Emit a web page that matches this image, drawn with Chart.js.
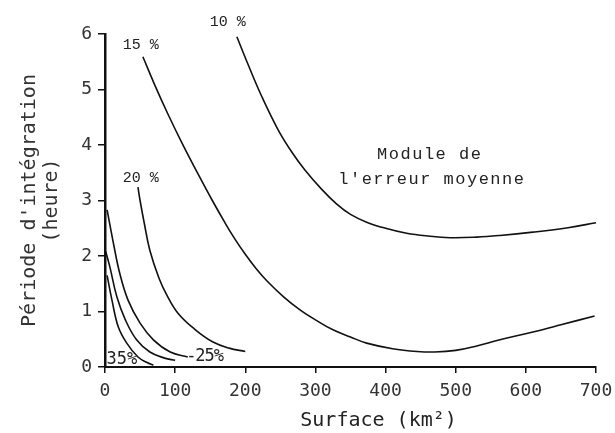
<!DOCTYPE html>
<html>
<head>
<meta charset="utf-8">
<script src="https://cdn.jsdelivr.net/npm/chart.js@4.4.1/dist/chart.umd.min.js"></script>
<style>
html,body{margin:0;padding:0;background:#fff;}
#wrap{width:615px;height:433px;position:relative;}
</style>
</head>
<body>
<div id="wrap"><canvas id="c" width="615" height="433"></canvas></div>
<script>
// ---- data ----
const xTicks = [0, 100, 200, 300, 400, 500, 600, 700];
const yTicks = [0, 1, 2, 3, 4, 5, 6];

const err10X = [188, 204, 224, 247, 267, 285, 309, 330, 350, 373, 400, 430, 460, 492, 530, 563, 610, 660, 700];
const err10Y = [5.95, 5.45, 4.86, 4.27, 3.86, 3.55, 3.2, 2.94, 2.75, 2.61, 2.5, 2.41, 2.36, 2.33, 2.34, 2.37, 2.43, 2.51, 2.6];

const err15X = [54, 71, 90, 110, 133, 153, 171, 183, 200, 215, 231, 255, 278, 300, 325, 350, 373, 410, 445, 470, 500, 530, 563, 610, 650, 698];
const err15Y = [5.59, 5.08, 4.55, 4.03, 3.47, 3.0, 2.6, 2.35, 2.03, 1.78, 1.55, 1.26, 1.03, 0.85, 0.67, 0.54, 0.43, 0.33, 0.28, 0.27, 0.3, 0.38, 0.49, 0.63, 0.76, 0.92];

const err20X = [47, 50, 56, 64, 77, 88, 104, 128, 154, 177, 200];
const err20Y = [3.24, 3.0, 2.59, 2.1, 1.6, 1.3, 0.97, 0.68, 0.45, 0.34, 0.28];

const err25X = [3, 12, 21, 33, 50, 69, 93, 118];
const err25Y = [2.83, 2.23, 1.69, 1.2, 0.79, 0.49, 0.27, 0.18];

const err30X = [1, 7, 17, 29, 45, 64, 85, 100];
const err30Y = [2.08, 1.8, 1.26, 0.85, 0.49, 0.27, 0.16, 0.12];

const err35X = [3, 10, 19, 31, 47, 60, 69];
const err35Y = [1.65, 1.2, 0.72, 0.43, 0.18, 0.08, 0.03];

const noteTexts = ['10 %', '15 %', '20 %', '-25%', '35%', 'Module de', "l'erreur moyenne"];
const noteX = [175, 51, 51, 142, 24, 463, 466];
const noteY = [6.22, 5.8, 3.4, 0.18, 0.13, 3.82, 3.37];
const noteKind = ['serif', 'serif', 'serif', 'sans', 'sans', 'serif', 'serif'];

const xTitle = 'Surface (km²)';
const xTitleAt = 390;
const yTitle = ["Période d'intégration", '(heure)'];

// ---- build datasets ----
function pts(xs, ys) { return xs.map((x, i) => ({x: x, y: ys[i]})); }
const series = [
  ['10 %', err10X, err10Y],
  ['15 %', err15X, err15Y],
  ['20 %', err20X, err20Y],
  ['25 %', err25X, err25Y],
  ['30 %', err30X, err30Y],
  ['35 %', err35X, err35Y]
];
const datasets = series.map(s => ({
  label: s[0],
  data: pts(s[1], s[2]),
  borderColor: '#111',
  borderWidth: 1.6,
  pointRadius: 0,
  showLine: true,
  fill: false,
  tension: 0.4,
  clip: false
}));

const textPlugin = {
  id: 'notes',
  afterDatasetsDraw(chart) {
    const ctx = chart.ctx, xs = chart.scales.x, ys = chart.scales.y;
    ctx.save();
    ctx.fillStyle = '#222';
    ctx.textAlign = 'center';
    ctx.textBaseline = 'middle';
    noteTexts.forEach((t, i) => {
      if (noteKind[i] === 'serif') {
        ctx.font = (i >= 5 ? '17px' : '15px') + ' "Liberation Mono", monospace';
        ctx.letterSpacing = i >= 5 ? '1.5px' : '0px';
      } else {
        ctx.font = '17px "DejaVu Sans Mono", monospace';
        ctx.letterSpacing = i === 3 ? '-1px' : '0px';
      }
      ctx.fillText(t, xs.getPixelForValue(noteX[i]), ys.getPixelForValue(noteY[i]));
    });
    ctx.letterSpacing = '0px';
    ctx.font = '20px "DejaVu Sans Mono", monospace';
    ctx.fillText(xTitle, xs.getPixelForValue(xTitleAt), chart.height - 12);
    ctx.restore();
  }
};

new Chart(document.getElementById('c'), {
  type: 'scatter',
  data: {datasets: datasets},
  plugins: [textPlugin],
  options: {
    responsive: false,
    animation: false,
    layout: {padding: {top: 34, right: 19, bottom: 0, left: 0}},
    plugins: {legend: {display: false}, tooltip: {enabled: false}},
    scales: {
      x: {
        type: 'linear', min: 0, max: 700,
        afterBuildTicks: s => { s.ticks = xTicks.map(v => ({value: v})); },
        afterFit: s => { s.height = 66; s.paddingLeft = 0; s.paddingRight = 0; },
        grid: {drawOnChartArea: false, drawTicks: true, tickLength: 6, color: '#111', lineWidth: 1.5},
        border: {display: true, color: '#111', width: 2},
        ticks: {color: '#333', padding: 8, font: {family: '"DejaVu Sans Mono", monospace', size: 18}}
      },
      y: {
        type: 'linear', min: 0, max: 6,
        afterBuildTicks: s => { s.ticks = yTicks.map(v => ({value: v})); },
        afterFit: s => { s.width = 105; s.paddingTop = 0; s.paddingBottom = 0; },
        grid: {drawOnChartArea: false, drawTicks: true, tickLength: 7, color: '#111', lineWidth: 1.5},
        border: {display: true, color: '#111', width: 2.5},
        ticks: {color: '#333', padding: 6, font: {family: '"DejaVu Sans Mono", monospace', size: 18}},
        title: {display: true, text: yTitle, color: '#333', padding: {top: 19, bottom: 0},
                font: {family: '"DejaVu Sans Mono", monospace', size: 20, lineHeight: 1.1}}
      }
    }
  }
});
</script>
</body>
</html>
